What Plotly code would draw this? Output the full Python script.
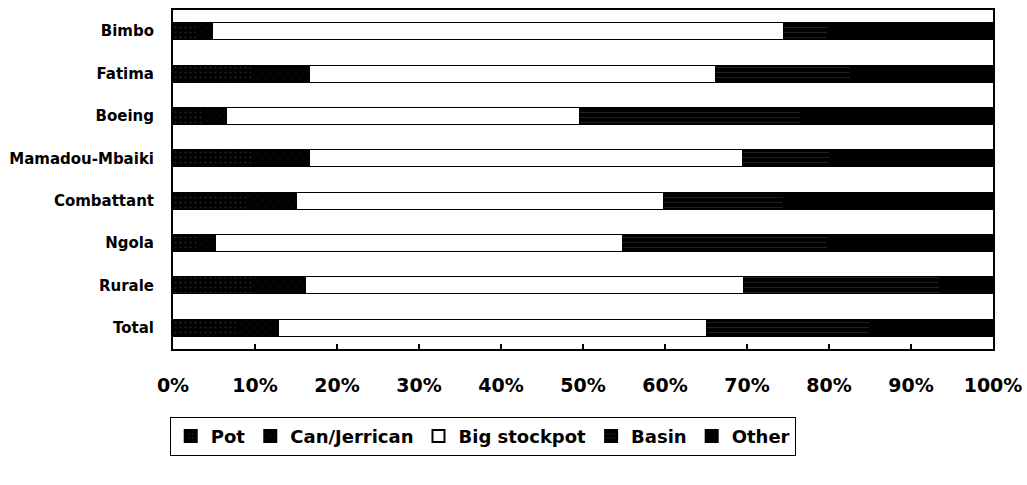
import plotly.graph_objects as go

categories = ["Bimbo", "Fatima", "Boeing", "Mamadou-Mbaiki", "Combattant", "Ngola", "Rurale", "Total"]
pot = [2.9, 9.8, 3.9, 10.1, 9.0, 3.1, 9.7, 7.7]
can_jerrican = [1.9, 6.8, 2.6, 6.6, 6.1, 2.1, 6.5, 5.2]
big_stockpot = [69.6, 49.6, 43.1, 52.8, 44.7, 49.6, 53.4, 52.1]
basin = [5.4, 16.4, 26.9, 10.5, 14.6, 25.0, 23.9, 19.9]
other = [20.2, 17.4, 23.5, 20.0, 25.6, 20.2, 6.5, 15.1]
x_ticks = [0, 10, 20, 30, 40, 50, 60, 70, 80, 90, 100]
x_tick_labels = ["0%", "10%", "20%", "30%", "40%", "50%", "60%", "70%", "80%", "90%", "100%"]

FONT = "DejaVu Sans, Liberation Sans, Arial, sans-serif"

series = [
    ("Pot", pot, dict(color="#000000", pattern=dict(shape=".", fgcolor="#444444", size=5, solidity=0.15))),
    ("Can/Jerrican", can_jerrican, dict(color="#000000", pattern=dict(shape="x", fgcolor="#333333", size=6, solidity=0.1))),
    ("Big stockpot", big_stockpot, dict(color="#ffffff")),
    ("Basin", basin, dict(color="#000000", pattern=dict(shape="-", fgcolor="#555555", size=5, solidity=0.15))),
    ("Other", other, dict(color="#000000")),
]

fig = go.Figure()
for name, vals, mk in series:
    mk = dict(mk)
    mk["line"] = dict(color="#000000", width=1)
    fig.add_trace(go.Bar(
        name=name, y=categories, x=vals, orientation="h", marker=mk,
    ))

fig.update_layout(
    barmode="stack",
    bargap=0.6,
    width=1027, height=485,
    margin=dict(l=173, r=34, t=10, b=136),
    paper_bgcolor="white", plot_bgcolor="white",
    font=dict(family=FONT, color="#000000"),
    legend=dict(
        orientation="h", x=-0.004, xanchor="left", y=-0.2, yanchor="top",
        bordercolor="#000000", borderwidth=1, bgcolor="white",
        font=dict(size=18, family=FONT, weight="bold"),
        itemwidth=30, tracegroupgap=0, itemsizing="constant",
        traceorder="normal",
    ),
    showlegend=True,
)
fig.update_xaxes(
    range=[0, 100], tickvals=x_ticks, ticktext=x_tick_labels,
    ticks="inside", ticklen=5, tickwidth=2, tickcolor="#000000",
    showgrid=False, zeroline=False, automargin=False,
    showline=True, linecolor="#000000", linewidth=2, mirror=True,
    tickfont=dict(size=19, family=FONT, weight="bold"),
    ticklabelstandoff=18,
)
fig.update_yaxes(
    autorange="reversed", ticks="", showgrid=False, automargin=False,
    showline=True, linecolor="#000000", linewidth=2, mirror=True,
    tickfont=dict(size=15, family=FONT, weight="bold"),
    ticklabelstandoff=14,
)

fig.write_html("out.html")
